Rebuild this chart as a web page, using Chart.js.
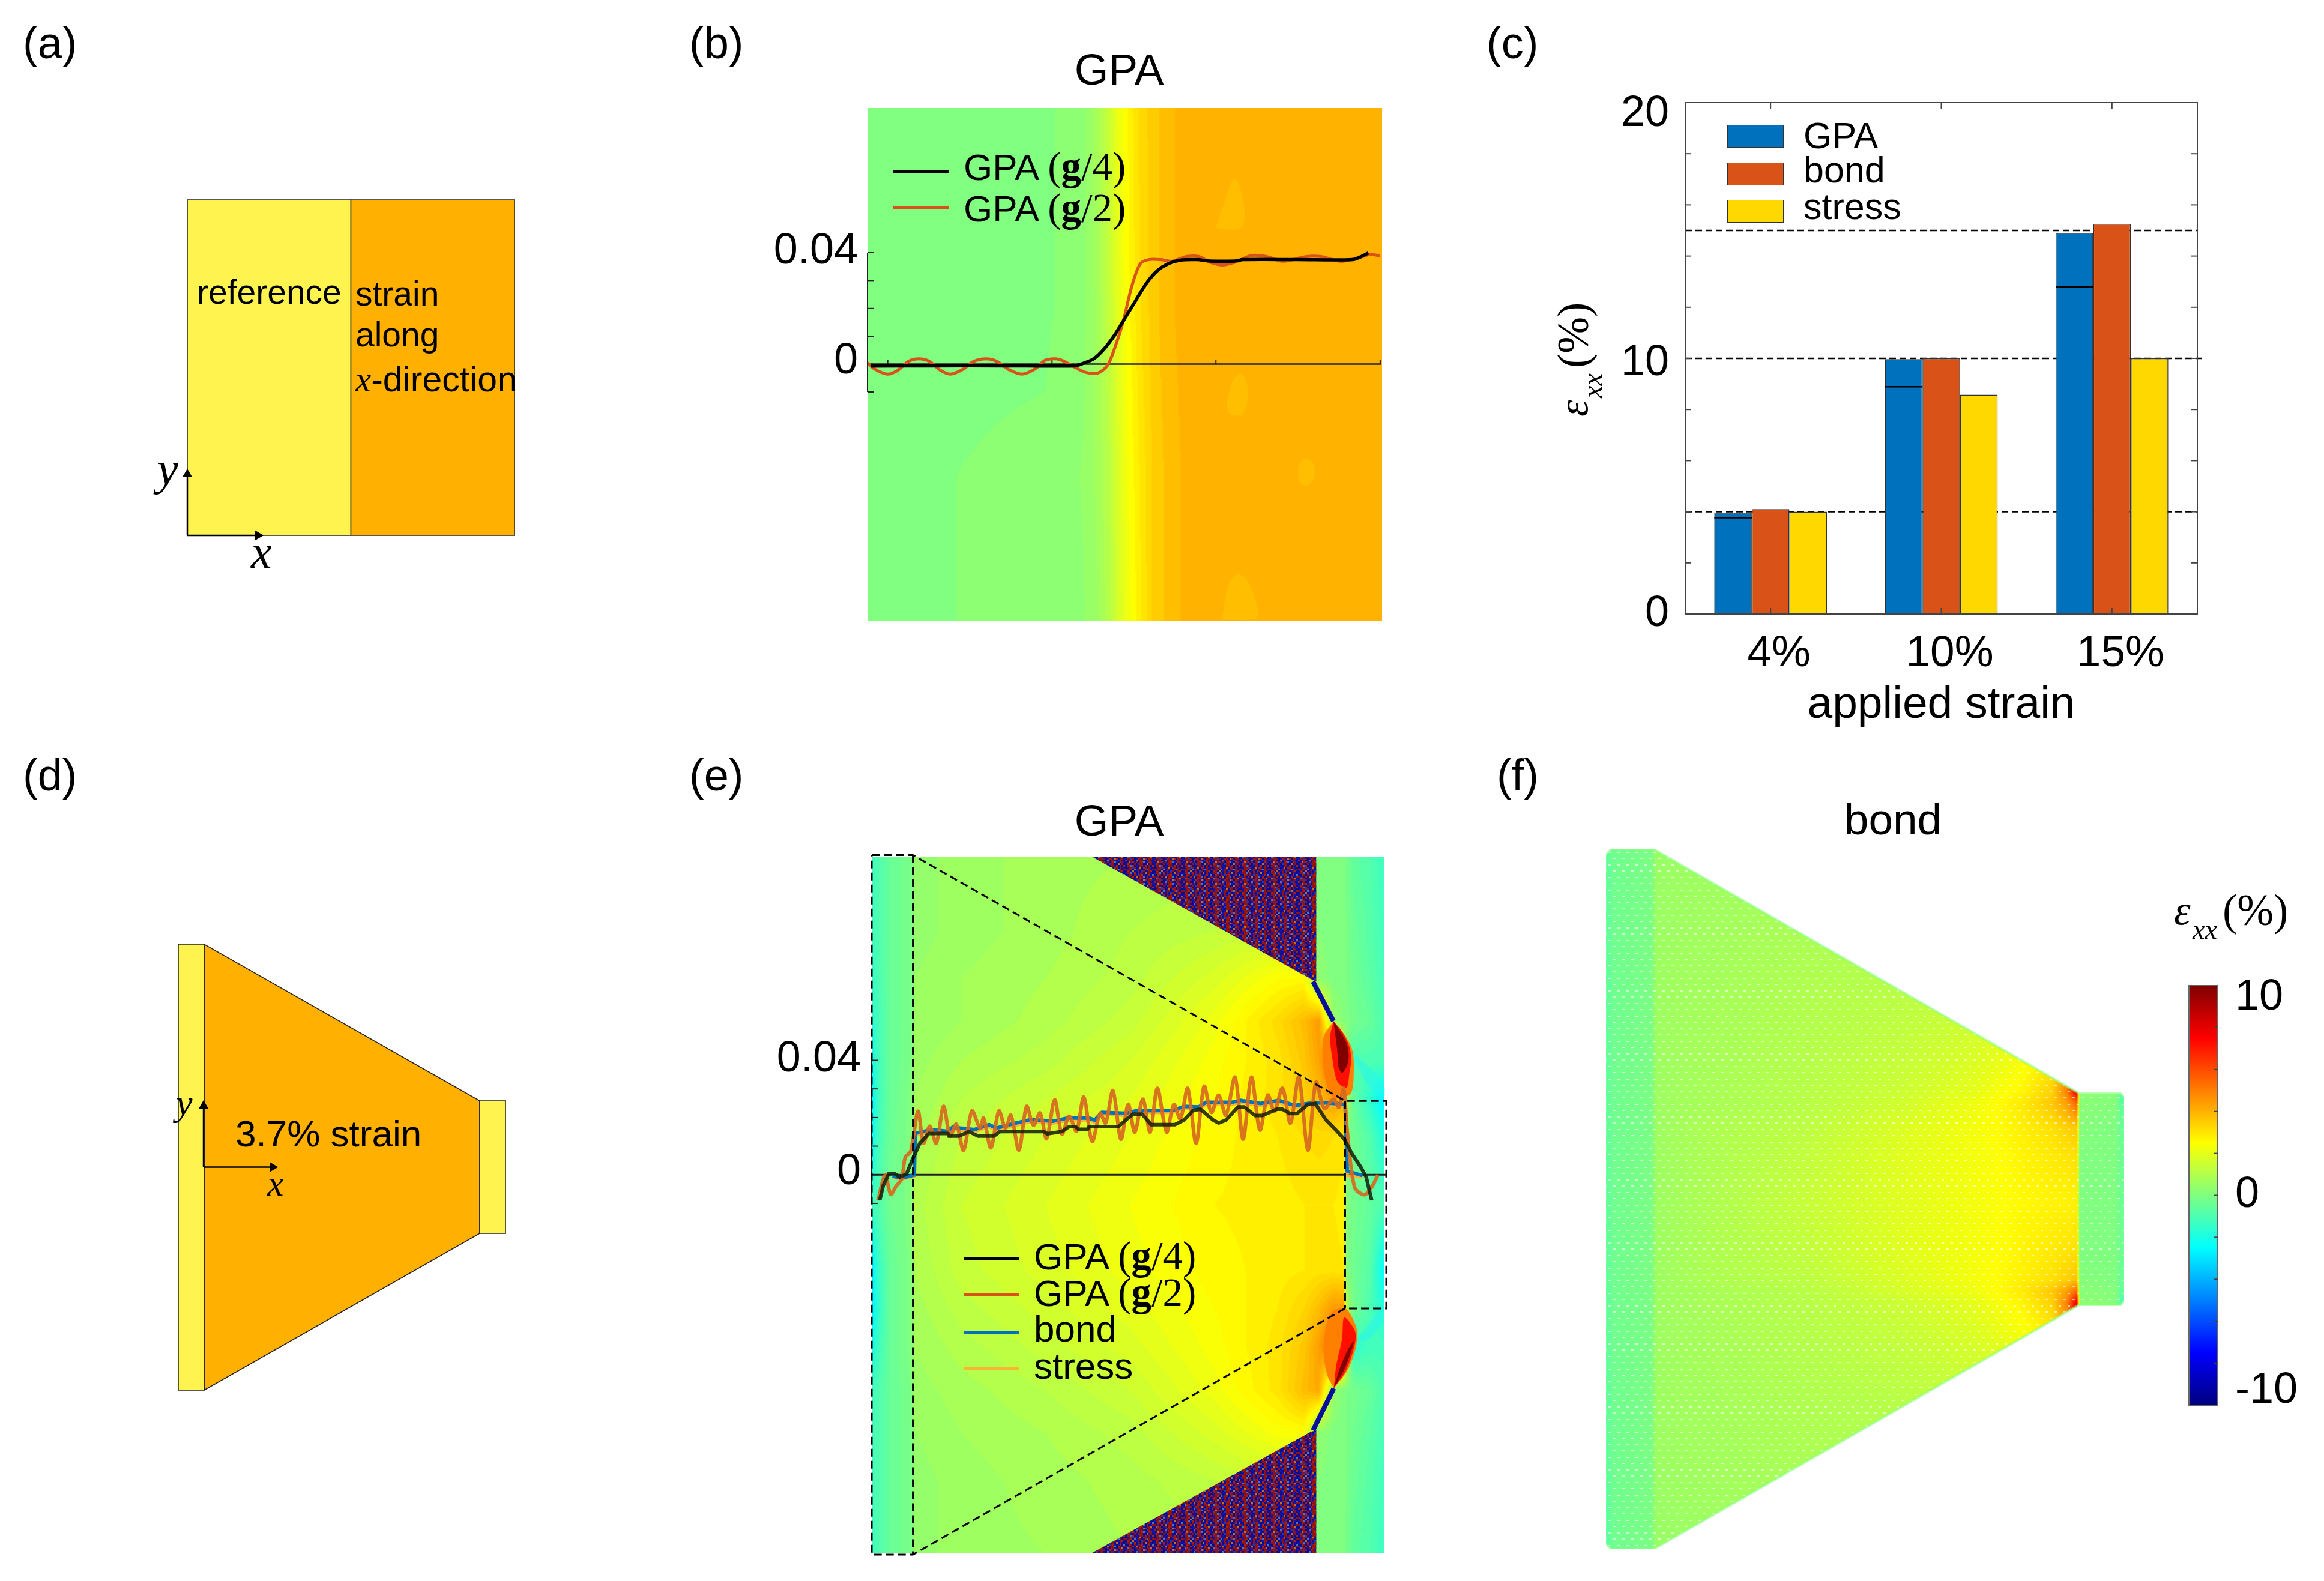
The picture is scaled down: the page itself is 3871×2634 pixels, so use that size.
<!DOCTYPE html>
<html>
<head>
<meta charset="utf-8">
<title>Strain maps</title>
<script src="https://cdn.jsdelivr.net/npm/chart.js@4/dist/chart.umd.min.js"></script>
<style>
  html, body { margin: 0; padding: 0; background: #fff; }
  #page { position: relative; width: 3871px; height: 2634px; overflow: hidden; background: #fff; }
  #page canvas { position: absolute; }
  .txt { position: absolute; white-space: pre; line-height: 1; color: #000; font-family: "Liberation Sans"; z-index: 5; }
  .serif { font-family: "Liberation Serif"; font-size: 1.08em; }
  .math { font-family: "Liberation Serif"; font-style: italic; }
</style>
</head>
<body>
<div id="page"></div>
<script>
// ---------- data ----------

// (c) bars
var categories = ["4%", "10%", "15%"];
var barSeries = ["GPA", "bond", "stress"];
var gpaValues = [3.96, 9.97, 14.9];
var bondValues = [4.1, 10.0, 15.26];
var stressValues = [4.0, 8.58, 10.0];
var gpaInnerValues = [3.77, 8.89, 12.8];
var appliedLevels = [15, 10, 4];
var cTickSpots = [0, 9.8, 19.55];
var cTickLabels = ["0", "10", "20"];
var cMinorTicks = [2, 4, 6, 8, 10, 12, 14, 16, 18];

// (b) profiles, x in plot units, y in strain
var bNames = ["GPA (g/4)", "GPA (g/2)"];
var bQuarterX = [285, 430, 600, 770, 790, 815, 840, 865, 890, 915, 940, 965, 990, 1020, 1060, 1090, 1150, 1170, 1300, 1430, 1450, 1467];
var bQuarterY = [-0.0007, -0.0006, -0.0006, -0.0006, 0.0003, 0.0019, 0.0055, 0.0105, 0.0167, 0.0229, 0.029, 0.0334, 0.0359, 0.0373, 0.0375, 0.037, 0.037, 0.0375, 0.0375, 0.0375, 0.0386, 0.0399];
var bHalfX = [278, 295, 325, 350, 375, 400, 425, 450, 475, 505, 530, 560, 585, 615, 645, 675, 700, 725, 745, 770, 795, 825, 848, 865, 885, 905, 925, 945, 975, 1000, 1035, 1065, 1090, 1120, 1150, 1190, 1225, 1265, 1320, 1355, 1400, 1440, 1470, 1495];
var bHalfY = [0.0005, -0.0018, -0.0036, -0.0022, 0.001, 0.0019, 0.001, -0.0021, -0.0036, -0.0018, 0.001, 0.0019, 0.001, -0.0021, -0.0036, -0.0018, 0.0014, 0.0019, 0.001, -0.0011, -0.0029, -0.0032, -0.0004, 0.0058, 0.0153, 0.0277, 0.0359, 0.0375, 0.0375, 0.0369, 0.0386, 0.0386, 0.0366, 0.0356, 0.0366, 0.039, 0.0386, 0.0369, 0.0386, 0.0386, 0.0369, 0.038, 0.0393, 0.0389];
var bXTicks = [326, 716, 1105, 1495];
var bYTicks = [0.04, 0.03, 0.02, 0.01, 0, -0.01];
var bTickSpots = [0.0405, 0.001];
var bTickLabels = ["0.04", "0"];

// (b) strain map, % strain, rows top to bottom
var bFieldX = [278, 700, 745, 790, 825, 850, 870, 895, 925, 955, 990, 1045, 1500];
var bFieldY = [0.092, 0.02, -0.04, -0.092];
var bField = [
  [0.1, 0.1, 0.15, 0.3, 0.8, 1.4, 2.1, 2.6, 3.2, 3.5, 3.8, 4.05, 4.05],
  [0.1, 0.1, 0.15, 0.3, 0.7, 1.3, 1.9, 2.5, 3.1, 3.5, 3.8, 4.05, 4.05],
  [0.1, 0.15, 0.25, 0.4, 0.7, 1.1, 1.7, 2.3, 2.9, 3.4, 3.7, 4.0, 4.05],
  [0.1, 0.15, 0.2, 0.35, 0.6, 1.0, 1.6, 2.2, 2.8, 3.4, 3.7, 4.0, 4.05]
];
var bBlobs = [
  { x: [1105, 1125, 1150, 1172, 1165, 1120], y: [0.049, 0.058, 0.0665, 0.056, 0.049, 0.0485] },
  { x: [1130, 1145, 1165, 1180, 1170, 1140], y: [-0.0145, -0.006, -0.0035, -0.0085, -0.0175, -0.018] },
  { x: [1300, 1310, 1330, 1340, 1325, 1305], y: [-0.0375, -0.0345, -0.0345, -0.0385, -0.0435, -0.0425] },
  { x: [1120, 1135, 1160, 1190, 1200, 1120], y: [-0.0915, -0.0795, -0.0755, -0.081, -0.0915, -0.0918] }
];

// (e) profiles, x in plot units, y in strain
var eNames = ["GPA (g/4)", "GPA (g/2)", "bond", "stress"];
var eQuarterX = [75, 85, 100, 115, 130, 148, 165, 185, 210, 262, 265, 292, 320, 345, 388, 405, 525, 535, 575, 595, 612, 620, 645, 650, 730, 750, 770, 795, 820, 885, 910, 935, 955, 990, 1005, 1025, 1058, 1075, 1105, 1125, 1165, 1180, 1200, 1220, 1250, 1270, 1300, 1330, 1350, 1370, 1395, 1410, 1425];
var eQuarterY = [-0.0089, -0.0036, 0.0004, 0.0004, -0.0008, 0.0002, 0.0054, 0.011, 0.0144, 0.0144, 0.0135, 0.0135, 0.0151, 0.0135, 0.0135, 0.0151, 0.0151, 0.0143, 0.0151, 0.0168, 0.0168, 0.0159, 0.0159, 0.0168, 0.0168, 0.0191, 0.0212, 0.0212, 0.0175, 0.0175, 0.0191, 0.0225, 0.0229, 0.0191, 0.0181, 0.0191, 0.0237, 0.0237, 0.0207, 0.0207, 0.0229, 0.0229, 0.0214, 0.0214, 0.0246, 0.0249, 0.0191, 0.0152, 0.0124, 0.0075, 0.0027, -0.0008, -0.0089];
var eHalfX = [70, 90, 105, 120, 135, 145, 160, 180, 195, 212, 230, 250, 268, 285, 305, 328, 350, 360, 380, 402, 420, 435, 457, 478, 497, 515, 533, 555, 575, 595, 615, 635, 658, 680, 695, 715, 737, 757, 775, 797, 817, 837, 862, 882, 900, 920, 943, 965, 985, 1005, 1025, 1050, 1072, 1095, 1118, 1140, 1158, 1180, 1202, 1225, 1250, 1272, 1295, 1320, 1335, 1348, 1358, 1378, 1405, 1425, 1442];
var eHalfY = [-0.0089, -0.0001, -0.0068, -0.004, -0.0015, 0.0061, 0.0082, 0.0222, 0.011, 0.017, 0.011, 0.0239, 0.0135, 0.0177, 0.0086, 0.0223, 0.0163, 0.0198, 0.0094, 0.0223, 0.0163, 0.0208, 0.0086, 0.0239, 0.0173, 0.0216, 0.0126, 0.0262, 0.0142, 0.0205, 0.0152, 0.0271, 0.0117, 0.0215, 0.018, 0.0294, 0.0124, 0.0246, 0.0149, 0.0264, 0.0149, 0.0302, 0.0149, 0.0246, 0.0194, 0.0302, 0.011, 0.0309, 0.0218, 0.0278, 0.0208, 0.0341, 0.0124, 0.0341, 0.0156, 0.0278, 0.0222, 0.0302, 0.018, 0.0341, 0.0086, 0.0323, 0.0232, 0.0264, 0.0236, 0.0302, 0.0152, -0.0043, -0.007, -0.0043, -0.0001];
var eBondX = [110, 135, 170, 172, 190, 215, 260, 275, 335, 375, 395, 450, 490, 550, 590, 650, 665, 685, 750, 780, 880, 910, 950, 970, 1040, 1065, 1120, 1170, 1215, 1260, 1300, 1352, 1358, 1400];
var eBondY = [-0.0005, -0.0012, -0.0001, 0.0145, 0.0149, 0.0158, 0.0152, 0.0166, 0.0158, 0.0175, 0.0163, 0.0181, 0.0193, 0.0187, 0.0198, 0.0198, 0.0191, 0.0218, 0.0215, 0.0224, 0.0225, 0.0239, 0.0237, 0.0253, 0.0253, 0.026, 0.0249, 0.026, 0.0242, 0.0251, 0.0251, 0.0246, 0.0013, -0.0003];
var eStressY = [-0.001, -0.0016, -0.0006, 0.0138, 0.0142, 0.015, 0.0145, 0.0158, 0.015, 0.0167, 0.0155, 0.0173, 0.0185, 0.0179, 0.019, 0.019, 0.0183, 0.021, 0.0207, 0.0216, 0.0217, 0.0231, 0.0229, 0.0245, 0.0245, 0.0252, 0.0241, 0.0252, 0.0234, 0.0243, 0.0243, 0.0238, -0.0003, -0.0009];
var eYTicks = [0.04, 0.03, 0.02, 0.01, 0, -0.01];
var eTickSpots = [0.0402, 0.0008];
var eTickLabels = ["0.04", "0"];

// (e) outline of the structure on the map
var eBoxX = [53, 166, 1352, 1465, 1465, 1352, 166, 53, 53];
var eBoxY = [0.1117, 0.1117, 0.0258, 0.0258, -0.0467, -0.0467, -0.1327, -0.1327, 0.1117];
var eLeftEdgeX = [166, 166];
var eLeftEdgeY = [0.1117, -0.1327];
var eRightEdgeX = [1352, 1352];
var eRightEdgeY = [0.0258, -0.0467];

// (e) strain map, % strain, rows top to bottom
var eFieldX = [53, 67, 102, 160, 170, 298, 530, 761, 993, 1167, 1240, 1280, 1320, 1348, 1356, 1375, 1421, 1458];
var eFieldY = [0.1112, 0.085, 0.0683, 0.0537, 0.04, 0.0267, 0.0133, -0.0105, -0.0333, -0.0467, -0.06, -0.0753, -0.09, -0.1067, -0.1322];
var eField = [
  [-1.3, -1, -0.5, -0.1, 0.4, 0.6, 0.8, 0.9, 1, 1, 1, 0.1, 0, 0, -0.2, -0.6, -0.9, -1.3],
  [-1.3, -1, -0.5, -0.1, 0.4, 0.6, 0.8, 1.1, 1.3, 1.5, 0.8, 0.1, 0, 0, -0.1, -0.4, -0.8, -1.2],
  [-1.5, -1.1, -0.5, -0.1, 0.5, 0.7, 0.9, 1.2, 1.8, 2.5, 2.6, 0.3, 0, 0, -0.1, -0.3, -0.7, -1.1],
  [-1.7, -1.2, -0.5, -0.1, 0.5, 0.7, 1, 1.4, 2.2, 3.2, 3.8, 4.5, 0.5, 0.1, 0, -0.2, -0.5, -1],
  [-2.3, -1.3, -0.5, -0.1, 0.6, 0.9, 1.2, 1.7, 2.4, 3, 3.6, 4.3, 5.5, 3, 0.3, -1, -1, -1],
  [-2.8, -1.4, -0.5, 0, 0.7, 1.1, 1.5, 1.9, 2.5, 3, 3.4, 3.8, 4.5, 4, 0.8, -0.5, -1.6, -2.8],
  [-2.6, -1.3, -0.4, 0, 0.8, 1.3, 1.7, 2.1, 2.6, 2.9, 3.1, 3.2, 3.1, 3, 0, -0.3, -0.9, -1.9],
  [-1.3, -1, -0.3, 0, 1, 1.5, 1.9, 2.3, 2.7, 2.8, 2.9, 2.9, 2.9, 2.8, 0, -0.2, -0.6, -1],
  [-3, -1.6, -0.5, 0, 0.9, 1.4, 1.8, 2.2, 2.6, 2.8, 2.9, 3, 3, 2.9, 0, -0.3, -0.8, -2.5],
  [-3, -1.7, -0.5, 0, 0.8, 1.2, 1.6, 2, 2.5, 2.9, 3.3, 3.8, 4.5, 4.5, 1, -0.2, -1, -1.8],
  [-2.2, -1.4, -0.5, 0, 0.7, 1, 1.4, 1.8, 2.4, 3, 3.6, 4.4, 5.5, 6, 2.5, -1.5, -1.2, -1.2],
  [-1.3, -1, -0.5, -0.1, 0.6, 0.8, 1.1, 1.5, 2.2, 3, 3.8, 4.2, 0.5, 0, -0.1, -0.2, -0.5, -1],
  [-1.2, -1, -0.5, -0.1, 0.5, 0.7, 0.9, 1.2, 1.8, 2.4, 2.5, 0.3, 0, 0, -0.1, -0.3, -0.7, -1.1],
  [-1.2, -1, -0.5, -0.1, 0.4, 0.6, 0.8, 1, 1.3, 1.5, 0.8, 0.1, 0, 0, -0.1, -0.4, -0.8, -1.2],
  [-1.3, -1, -0.5, -0.1, 0.4, 0.6, 0.7, 0.9, 1, 1, 1, 0.1, 0, 0, -0.2, -0.6, -0.9, -1.3]
];

// (e) hot spots at the corners, level in % strain
var eSpots = [
  { level: 10, x: [1320, 1338, 1356, 1362, 1358, 1344, 1334, 1331, 1326], y: [0.0537, 0.0502, 0.046, 0.0419, 0.0383, 0.0356, 0.0377, 0.0429, 0.0481] },
  { level: 7.2, x: [1320, 1343, 1362, 1369, 1364, 1356, 1331, 1318, 1311], y: [0.0537, 0.0502, 0.0454, 0.0408, 0.0356, 0.0304, 0.0325, 0.0398, 0.0481] },
  { level: 5, x: [1320, 1351, 1371, 1376, 1367, 1318, 1293, 1293], y: [0.0537, 0.0488, 0.044, 0.0377, 0.0283, 0.0273, 0.0367, 0.0481] },
  { level: 10, x: [1321, 1348, 1367, 1376, 1359, 1338], y: [-0.0746, -0.0685, -0.0623, -0.0581, -0.0613, -0.0675] },
  { level: 7.2, x: [1321, 1354, 1377, 1381, 1367, 1349, 1344, 1328], y: [-0.0746, -0.0685, -0.0602, -0.0554, -0.0519, -0.0498, -0.0571, -0.0665] },
  { level: 5, x: [1321, 1358, 1382, 1384, 1367, 1349, 1310, 1293, 1302], y: [-0.0746, -0.0685, -0.0602, -0.054, -0.0488, -0.0465, -0.0488, -0.0602, -0.0696] }
];
var eStreaks = [
  { x: [1371, 1456, 1456, 1409], y: [0.0429, 0.0325, 0.0263, 0.0325] },
  { x: [1381, 1453, 1453, 1409], y: [-0.0581, -0.0467, -0.0519, -0.0581] }
];
var eEdges = [
  { x: [1264, 1320], y: [0.0675, 0.0537] },
  { x: [1264, 1321], y: [-0.0893, -0.0746] }
];
var eNoiseAreas = [
  { x: [657, 1259, 1273, 1273, 657], y: [0.1112, 0.0683, 0.0675, 0.1112, 0.1112] },
  { x: [657, 1259, 1273, 1273, 657], y: [-0.1322, -0.0897, -0.0893, -0.1322, -0.1322] }
];
var noiseColors = { b: "#0b0b8e", n: "#1414a8", B: "#2238b4", r: "#8e1210", R: "#a82012", o: "#b8702a", s: "#4f72b4" };
var noiseTile = [
  "bnrrBrbnobRrbrnb",
  "rnrRbsnrrbnRsrbr",
  "bRrbobnrbBrbnrRb",
  "nrrsnRbrnrbobrnb",
  "bbRrbrnBrRnbnRbs",
  "rnrbRbobrrsbRbnr",
  "bsRrbnrbRrnbrrob",
  "nrrBrbnRrnoRbrrn",
  "RbrrbbsnrrnbBrnb",
  "bnorRnrbrRsnbRrn",
  "nRrnbrbBrrbbonrb",
  "brrsRbnbrrnRbrbR"
];

// (f) structure outline and strain map
var fShapeX = [92, 103, 190, 1065, 1150, 1157, 1157, 1150, 1065, 190, 103, 92, 92];
var fShapeY = [90, 78, 78, 590, 590, 598, 1025, 1033, 1033, 1545, 1545, 1533, 90];
var fFieldX = [92, 105, 186, 194, 300, 500, 700, 850, 950, 1010, 1040, 1060, 1066, 1072, 1140, 1157];
var fFieldY = [78, 300, 585, 610, 660, 720, 812, 920, 980, 1005, 1030, 1300, 1545];
var fField = [
  [-0.8, -0.3, -0.1, 0.5, 0.6, 0.7, 0.8, 0.9, 0.9, 0.9, 0.9, 0.9, 0.1, 0.1, 0, -0.7],
  [-0.8, -0.3, -0.1, 0.6, 0.7, 0.9, 1, 1.1, 1.2, 1.2, 1.2, 1.2, 0.1, 0.1, 0, -0.7],
  [-0.8, -0.3, -0.1, 0.6, 0.8, 1.1, 1.5, 2, 2.7, 3.4, 5, 8, 0.2, 0.3, 0.1, -1.5],
  [-0.8, -0.3, -0.1, 0.6, 0.8, 1.1, 1.6, 2.2, 2.9, 3.6, 4.4, 5.5, 0.1, 0.2, 0.1, -1],
  [-0.8, -0.3, -0.1, 0.6, 0.9, 1.2, 1.8, 2.3, 2.8, 3.1, 3.4, 3.6, 0.1, 0.1, 0, -0.7],
  [-0.8, -0.3, -0.1, 0.6, 0.9, 1.3, 1.9, 2.3, 2.7, 2.9, 3, 3.1, 0, 0, 0, -0.6],
  [-0.8, -0.3, -0.1, 0.6, 0.9, 1.4, 1.9, 2.3, 2.6, 2.7, 2.7, 2.8, 0, 0, 0, -0.6],
  [-0.8, -0.3, -0.1, 0.6, 0.9, 1.3, 1.9, 2.3, 2.7, 2.9, 3, 3.1, 0, 0, 0, -0.6],
  [-0.8, -0.3, -0.1, 0.6, 0.9, 1.2, 1.8, 2.3, 2.8, 3.1, 3.4, 3.7, 0.1, 0.1, 0, -0.7],
  [-0.8, -0.3, -0.1, 0.6, 0.8, 1.1, 1.7, 2.2, 2.9, 3.6, 4.4, 5.5, 0.1, 0.2, 0.1, -1],
  [-0.8, -0.3, -0.1, 0.6, 0.8, 1.1, 1.5, 2, 2.7, 3.4, 5, 8, 0.2, 0.3, 0.1, -1.5],
  [-0.8, -0.3, -0.1, 0.6, 0.7, 0.9, 1, 1.1, 1.2, 1.2, 1.2, 1.2, 0.1, 0.1, 0, -0.7],
  [-1, -0.3, -0.1, 0.5, 0.6, 0.7, 0.8, 0.9, 0.9, 0.9, 0.9, 0.9, 0.1, 0.1, 0, -0.7]
];

// colour bar
var barLevels = [10, 9, 8, 7, 6, 5, 4, 3, 2, 1, 0, -1, -2, -3, -4, -5, -6, -7, -8, -9, -10];
var barTicks = [8, 6, 4, 2, 0, -2, -4, -6, -8];
var barTickSpots = [9.43, 0, -9.31];
var barTickLabels = ["10", "0", "-10"];

// (a) and (d) schematics
var aEdgesX = [0, 1, 2];
var aEdgesY = [0, 1];
var dEdgesX = [0, 43, 502, 545];
var dWideHalf = 371.5;
var dNarrowHalf = 110.5;

var panelLabels = ["(a)", "(b)", "(c)", "(d)", "(e)", "(f)"];

// ---------- helpers ----------

var page = document.getElementById("page");
var SANS = '"Liberation Sans"';
var BLUE = "#0072BD", RED = "#D95319", GOLD = "#FFD800";
var YELLOW = "#FFF44F", ORANGE = "#FFB000";

Chart.defaults.font.family = SANS;
Chart.defaults.animation = false;
Chart.defaults.responsive = false;
Chart.defaults.devicePixelRatio = 1;
Chart.defaults.color = "#000";
Chart.defaults.plugins.legend.display = false;
Chart.defaults.plugins.tooltip.enabled = false;

function addCanvas(left, top, width, height) {
  var c = document.createElement("canvas");
  c.width = width;
  c.height = height;
  c.style.left = left + "px";
  c.style.top = top + "px";
  c.style.width = width + "px";
  c.style.height = height + "px";
  page.appendChild(c);
  return c;
}

// left / baseline placed text, line-height is 1 so the baseline sits at .84em
function addText(html, left, baseline, size, cls, parent) {
  var d = document.createElement("div");
  d.className = "txt" + (cls ? " " + cls : "");
  d.innerHTML = html;
  d.style.left = left + "px";
  d.style.top = (baseline - 0.84 * size) + "px";
  d.style.fontSize = size + "px";
  (parent || page).appendChild(d);
  return d;
}

function strainLabel(x, y, rotated) {
  var box = document.createElement("div");
  box.style.cssText = "position:absolute;z-index:5;left:" + x + "px;top:" + y + "px;transform-origin:0 0;" + (rotated ? "transform:rotate(-90deg);" : "");
  page.appendChild(box);
  addText("\u03B5", 0, 0, 70, "math", box);
  addText("xx", 31, 24, 46, "math", box);
  addText('<span style="font-style:normal">(%)</span>', 81, 0, 73, "math", box);
}

function keyName(name) {
  return name.replace(/\(g\/(\d)\)/, '<span class="serif">(<b>g</b>/$1)</span>');
}

function lineKey(name, color, x1, x2, y, textX, baseline) {
  var bar = document.createElement("div");
  bar.style.cssText = "position:absolute;z-index:5;left:" + x1 + "px;top:" + (y - 2) + "px;width:" + (x2 - x1) + "px;height:5px;background:" + color;
  page.appendChild(bar);
  addText(keyName(name), textX, baseline, 62);
}

function pts(xs, ys) {
  return xs.map(function(x, i) { return { x: x, y: ys[i] }; });
}

function curve(xs, ys, color, width, tension) {
  return { data: pts(xs, ys), showLine: true, borderColor: color, borderWidth: width, pointRadius: 0, tension: tension || 0, fill: false };
}

function shape(xs, ys, fill, stroke, width) {
  return { data: pts(xs, ys), showLine: true, backgroundColor: fill, borderColor: stroke || fill, borderWidth: width === undefined ? 0 : width, pointRadius: 0, fill: "shape", tension: 0, clip: false };
}

function closedShape(item, fill, tension) {
  var d = shape(item.x.concat(item.x[0]), item.y.concat(item.y[0]), fill);
  d.tension = tension || 0;
  return d;
}

function dashed(xs, ys) {
  var d = curve(xs, ys, "#000", 3, 0);
  d.borderDash = [13, 7];
  d.clip = false;
  return d;
}

function arrow(xs, ys, angle) {
  return {
    data: pts(xs, ys), showLine: true, borderColor: "#000", borderWidth: 2.5, fill: false, clip: false,
    pointStyle: "triangle", pointBackgroundColor: "#000", pointBorderColor: "#000",
    pointRadius: [0, 7], pointRotation: angle
  };
}

function segment(ctx, x1, y1, x2, y2, color, width) {
  ctx.save();
  ctx.strokeStyle = color;
  ctx.lineWidth = width;
  ctx.beginPath();
  ctx.moveTo(x1, y1);
  ctx.lineTo(x2, y2);
  ctx.stroke();
  ctx.restore();
}

function jet(v) {
  var t = (v + 10) / 20;
  var clamp = function(a) { return Math.max(0, Math.min(1, a)); };
  return [
    clamp(Math.min(4 * t - 1.5, -4 * t + 4.5)) * 255,
    clamp(Math.min(4 * t - 0.5, -4 * t + 3.5)) * 255,
    clamp(Math.min(4 * t + 0.5, -4 * t + 2.5)) * 255
  ];
}

function jetCss(v) {
  var c = jet(v);
  return "rgb(" + Math.round(c[0]) + "," + Math.round(c[1]) + "," + Math.round(c[2]) + ")";
}

function cellOf(list, value) {
  for (var i = 0; i < list.length - 2; i++) {
    if ((value - list[i + 1]) * (list[i + 1] - list[i]) < 0) return i;
  }
  return list.length - 2;
}

// paints a value grid behind the data, through the chart's own scales
function fieldPlugin(xs, ys, grid, step, outline, dots) {
  return {
    id: "field",
    beforeDatasetsDraw: function(chart) {
      var sx = chart.scales.x, sy = chart.scales.y, ctx = chart.ctx;
      var left = sx.getPixelForValue(xs[0]), right = sx.getPixelForValue(xs[xs.length - 1]);
      var top = sy.getPixelForValue(ys[0]), bottom = sy.getPixelForValue(ys[ys.length - 1]);
      var w = Math.ceil((right - left) / 2), h = Math.ceil((bottom - top) / 2);
      var off = document.createElement("canvas");
      off.width = w;
      off.height = h;
      var octx = off.getContext("2d");
      var img = octx.createImageData(w, h);
      for (var j = 0; j < h; j++) {
        var yv = sy.getValueForPixel(top + (j + 0.5) * (bottom - top) / h);
        var r = cellOf(ys, yv);
        var fy = (yv - ys[r]) / (ys[r + 1] - ys[r]);
        for (var i = 0; i < w; i++) {
          var xv = sx.getValueForPixel(left + (i + 0.5) * (right - left) / w);
          var c = cellOf(xs, xv);
          var fx = (xv - xs[c]) / (xs[c + 1] - xs[c]);
          var v = (grid[r][c] * (1 - fx) + grid[r][c + 1] * fx) * (1 - fy) + (grid[r + 1][c] * (1 - fx) + grid[r + 1][c + 1] * fx) * fy;
          if (step) v = Math.round(v / step) * step;
          var col = jet(v), k = (j * w + i) * 4;
          img.data[k] = col[0];
          img.data[k + 1] = col[1];
          img.data[k + 2] = col[2];
          img.data[k + 3] = 255;
        }
      }
      octx.putImageData(img, 0, 0);
      ctx.save();
      if (outline) {
        ctx.beginPath();
        outline.x.forEach(function(x, i) {
          var px = sx.getPixelForValue(x), py = sy.getPixelForValue(outline.y[i]);
          if (i === 0) ctx.moveTo(px, py); else ctx.lineTo(px, py);
        });
        ctx.closePath();
        ctx.clip();
      }
      ctx.imageSmoothingEnabled = true;
      ctx.drawImage(off, left, top, right - left, bottom - top);
      if (dots) {
        ctx.fillStyle = dots;
        ctx.fillRect(left, top, right - left, bottom - top);
      }
      ctx.restore();
    }
  };
}

function noisePattern() {
  var cell = 3;
  var t = document.createElement("canvas");
  t.width = noiseTile[0].length * cell;
  t.height = noiseTile.length * cell;
  var c = t.getContext("2d");
  noiseTile.forEach(function(row, j) {
    row.split("").forEach(function(ch, i) {
      c.fillStyle = noiseColors[ch];
      c.fillRect(i * cell, j * cell, cell, cell);
    });
  });
  return document.createElement("canvas").getContext("2d").createPattern(t, "repeat");
}

function dotPattern() {
  var t = document.createElement("canvas");
  t.width = 15;
  t.height = 21;
  var c = t.getContext("2d");
  c.fillStyle = "rgba(255,255,255,0.62)";
  c.fillRect(2, 3, 4, 2);
  c.fillRect(9, 14, 4, 2);
  return document.createElement("canvas").getContext("2d").createPattern(t, "repeat");
}

// y axis that only carries the labels, the marks are drawn by hand
function labelAxis(min, max, spots, labels, width, padding, position) {
  return {
    type: "linear", position: position || "left", min: min, max: max,
    grid: { display: false, drawTicks: false }, border: { display: false },
    ticks: { font: { size: 72 }, padding: padding, color: "#000", autoSkip: false, maxRotation: 0, callback: function(v, i) { return labels[i]; } },
    afterBuildTicks: function(s) { s.ticks = spots.map(function(v) { return { value: v }; }); },
    afterFit: function(s) {
      s.width = width;
      s.paddingTop = 0;
      s.paddingBottom = 0;
    }
  };
}

function hiddenX(min, max) {
  return { type: "linear", min: min, max: max, display: false };
}

// empty right hand axis, keeps the title centred where the figure has it
function spacerAxis(width) {
  return {
    type: "linear", position: "right", min: 0, max: 1,
    grid: { display: false, drawTicks: false }, border: { display: false }, ticks: { display: false },
    afterFit: function(s) {
      s.width = width;
      s.paddingTop = 0;
      s.paddingBottom = 0;
    }
  };
}

function chartTitle(text, top, bottom) {
  return { display: true, text: text, font: { size: 73, weight: "normal" }, color: "#000", padding: { top: top, bottom: bottom } };
}

// axis pieces drawn over the maps in (b) and (e)
function axisPlugin(yTicks, xTicks, zeroWidth) {
  return {
    id: "axisPieces",
    beforeDatasetsDraw: function(chart) {
      var a = chart.chartArea, sx = chart.scales.x, sy = chart.scales.y, ctx = chart.ctx;
      var y0 = sy.getPixelForValue(0);
      segment(ctx, a.left, y0, a.right, y0, "#222", zeroWidth);
      segment(ctx, a.left, sy.getPixelForValue(yTicks[0]), a.left, sy.getPixelForValue(yTicks[yTicks.length - 1]), "#222", 2);
      yTicks.forEach(function(v) {
        var py = sy.getPixelForValue(v);
        segment(ctx, a.left, py, a.left + 11, py, "#222", 2);
      });
      xTicks.forEach(function(v) {
        var px = sx.getPixelForValue(v);
        segment(ctx, px, y0, px, y0 - 7, "#222", 2);
      });
    }
  };
}

// ---------- (a) schematic ----------

new Chart(addCanvas(292, 313, 585, 599), {
  type: "scatter",
  data: { datasets: [
    arrow([0, 0], [0, 0.182], 0),
    arrow([0, 0.432], [0, 0], 90),
    shape([aEdgesX[1], aEdgesX[2], aEdgesX[2], aEdgesX[1], aEdgesX[1]], [aEdgesY[0], aEdgesY[0], aEdgesY[1], aEdgesY[1], aEdgesY[0]], ORANGE, "#222", 1.5),
    shape([aEdgesX[0], aEdgesX[1], aEdgesX[1], aEdgesX[0], aEdgesX[0]], [aEdgesY[0], aEdgesY[0], aEdgesY[1], aEdgesY[1], aEdgesY[0]], YELLOW, "#222", 1.5)
  ] },
  options: {
    layout: { padding: 20 },
    scales: { x: hiddenX(aEdgesX[0], aEdgesX[2]), y: { type: "linear", min: 0, max: 1, display: false } }
  }
});
addText("reference", 328, 506, 57);
addText("strain", 592, 509, 57);
addText("along", 592, 577, 57);
addText('<span class="math">x</span>-direction', 592, 653, 59);
addText("y", 262, 808, 78, "math");
addText("x", 418, 947, 78, "math");

// ---------- (d) schematic ----------

new Chart(addCanvas(277, 1553, 585, 783), {
  type: "scatter",
  data: { datasets: [
    arrow([42, 42], [0, 102], 0),
    arrow([42, 157], [0, 0], 90),
    shape([dEdgesX[2], dEdgesX[3], dEdgesX[3], dEdgesX[2], dEdgesX[2]], [-dNarrowHalf, -dNarrowHalf, dNarrowHalf, dNarrowHalf, -dNarrowHalf], YELLOW, "#222", 1.5),
    shape([dEdgesX[0], dEdgesX[1], dEdgesX[1], dEdgesX[0], dEdgesX[0]], [-dWideHalf, -dWideHalf, dWideHalf, dWideHalf, -dWideHalf], YELLOW, "#222", 1.5),
    shape([dEdgesX[1], dEdgesX[2], dEdgesX[2], dEdgesX[1], dEdgesX[1]], [-dWideHalf, -dNarrowHalf, dNarrowHalf, dWideHalf, -dWideHalf], ORANGE, "#222", 1.5)
  ] },
  options: {
    layout: { padding: 20 },
    scales: { x: hiddenX(dEdgesX[0], dEdgesX[3]), y: { type: "linear", min: -dWideHalf, max: dWideHalf, display: false } }
  }
});
addText("3.7% strain", 392, 1910, 62);
addText("y", 293, 1858, 62, "math");
addText("x", 445, 1992, 62, "math");

// ---------- (b) GPA map with profiles ----------

var bDatasets = [
  curve(bQuarterX, bQuarterY, "#000", 5.5, 0.3),
  curve(bHalfX, bHalfY, RED, 5, 0.3)
];
bBlobs.forEach(function(blob) {
  bDatasets.push(closedShape(blob, jetCss(3.75), 0.4));
});

new Chart(addCanvas(1250, 60, 1228, 980), {
  type: "scatter",
  data: { datasets: bDatasets },
  options: {
    layout: { autoPadding: false, padding: { bottom: 6 } },
    plugins: { title: chartTitle("GPA", 17.5, 15.5) },
    scales: { x: hiddenX(278, 1498), y: labelAxis(-0.0921, 0.0918, bTickSpots, bTickLabels, 195, 16), yPad: spacerAxis(177) }
  },
  plugins: [fieldPlugin(bFieldX, bFieldY, bField, 0.25), axisPlugin(bYTicks, bXTicks, 2.5)]
});
lineKey(bNames[0], "#000", 1488, 1580, 285, 1605, 296);
lineKey(bNames[1], RED, 1488, 1580, 345, 1605, 365);

// ---------- (c) bars ----------

function barSet(label, values, color) {
  return { label: label, data: values, backgroundColor: color, borderColor: "#333", borderWidth: 1.5, categoryPercentage: 0.66, barPercentage: 1 };
}

new Chart(addCanvas(2600, 120, 1100, 1110), {
  type: "bar",
  data: {
    labels: categories,
    datasets: [
      barSet(barSeries[0], gpaValues, BLUE),
      barSet(barSeries[1], bondValues, RED),
      barSet(barSeries[2], stressValues, GOLD)
    ]
  },
  options: {
    layout: { autoPadding: false, padding: { top: 51, right: 40 } },
    scales: {
      x: {
        grid: { display: false, drawTicks: false }, border: { display: false },
        ticks: { font: { size: 73 }, padding: 23, labelOffset: 14, color: "#000", maxRotation: 0 },
        title: { display: true, text: "applied strain", font: { size: 75 }, color: "#000", padding: { top: 0, bottom: 10 } },
        afterFit: function(s) { s.height = 207; }
      },
      y: labelAxis(0, 20, cTickSpots, cTickLabels, 207, 27)
    }
  },
  plugins: [{
    id: "levels",
    beforeDatasetsDraw: function(chart) {
      var a = chart.chartArea, ctx = chart.ctx, sy = chart.scales.y;
      ctx.save();
      ctx.setLineDash([11, 6]);
      appliedLevels.forEach(function(level) {
        var py = sy.getPixelForValue(level);
        segment(ctx, a.left, py, level === 10 ? a.right + 14 : a.right, py, "#000", 2.5);
      });
      ctx.restore();
    }
  }, {
    id: "barMarks",
    afterDatasetsDraw: function(chart) {
      var a = chart.chartArea, ctx = chart.ctx, sx = chart.scales.x, sy = chart.scales.y;
      chart.getDatasetMeta(0).data.forEach(function(bar, i) {
        var py = sy.getPixelForValue(gpaInnerValues[i]);
        segment(ctx, bar.x - bar.width / 2, py, bar.x + bar.width / 2, py, "#000", 2.5);
      });
      ctx.save();
      ctx.strokeStyle = "#444";
      ctx.lineWidth = 2;
      ctx.strokeRect(a.left, a.top, a.right - a.left, a.bottom - a.top);
      ctx.restore();
      cMinorTicks.forEach(function(v) {
        var py = sy.getPixelForValue(v);
        segment(ctx, a.left, py, a.left + 10, py, "#444", 2);
        segment(ctx, a.right, py, a.right - 10, py, "#444", 2);
      });
      categories.forEach(function(c, i) {
        var px = sx.getPixelForValue(i);
        segment(ctx, px, a.bottom, px, a.bottom - 10, "#444", 2);
        segment(ctx, px, a.top, px, a.top + 10, "#444", 2);
      });
    }
  }]
});
[[208, 247, BLUE], [271, 304, RED], [333, 365, GOLD]].forEach(function(row, i) {
  var patch = document.createElement("div");
  patch.style.cssText = "position:absolute;z-index:5;box-sizing:border-box;left:2877px;top:" + row[0] + "px;width:94px;height:38px;border:1.5px solid #333;background:" + row[2];
  page.appendChild(patch);
  addText(barSeries[i], 3004, row[1], 61);
});
strainLabel(2645, 694, true);

// ---------- (e) GPA map with profiles ----------

var noise = noisePattern();
var eDatasets = [
  dashed(eBoxX, eBoxY),
  dashed(eLeftEdgeX, eLeftEdgeY),
  dashed(eRightEdgeX, eRightEdgeY),
  curve(eQuarterX, eQuarterY, "rgba(20,30,10,0.86)", 6, 0),
  curve(eHalfX, eHalfY, "rgba(214,105,30,0.92)", 6, 0.3),
  curve(eBondX, eBondY, BLUE, 6, 0),
  curve(eBondX, eStressY, "#F7B733", 5, 0)
];
eEdges.forEach(function(edge) {
  eDatasets.push(curve(edge.x, edge.y, "#06109c", 8, 0));
});
eSpots.forEach(function(spot) {
  eDatasets.push(closedShape(spot, jetCss(spot.level), 0.3));
});
eStreaks.forEach(function(streak) {
  eDatasets.push(closedShape(streak, "rgba(40,245,235,0.55)", 0.3));
});
eNoiseAreas.forEach(function(area) {
  eDatasets.push(shape(area.x, area.y, noise));
});

new Chart(addCanvas(1250, 1300, 1228, 1300), {
  type: "scatter",
  data: { datasets: eDatasets },
  options: {
    layout: { autoPadding: false, padding: { bottom: 10 } },
    plugins: { title: chartTitle("GPA", 28.5, 8.5) },
    scales: { x: hiddenX(53, 1465), y: labelAxis(-0.1327, 0.1117, eTickSpots, eTickLabels, 202, 18), yPad: spacerAxis(169) }
  },
  plugins: [fieldPlugin(eFieldX, eFieldY, eField, 0.2), axisPlugin(eYTicks, [], 3)]
});
lineKey(eNames[0], "#000", 1606, 1697, 2096, 1722, 2111);
lineKey(eNames[1], RED, 1606, 1697, 2157, 1722, 2172);
lineKey(eNames[2], BLUE, 1606, 1697, 2219, 1722, 2235);
lineKey(eNames[3], "#F7B733", 1606, 1697, 2280, 1722, 2297);

// ---------- (f) bond map ----------

new Chart(addCanvas(2640, 1300, 991, 1291), {
  type: "scatter",
  data: { datasets: [curve(fShapeX, fShapeY, "rgba(140,255,130,0.6)", 4, 0)] },
  options: {
    layout: { autoPadding: false, padding: { left: 35, bottom: 10 } },
    plugins: { title: chartTitle("bond", 26.5, 0.5) },
    scales: { x: hiddenX(92, 1157), y: { type: "linear", min: 78, max: 1545, reverse: true, display: false }, yPad: spacerAxis(93) }
  },
  plugins: [fieldPlugin(fFieldX, fFieldY, fField, 0, { x: fShapeX, y: fShapeY }, dotPattern())]
});

// ---------- colour bar ----------

new Chart(addCanvas(3600, 1620, 271, 760), {
  type: "scatter",
  data: { datasets: [{ data: [] }] },
  options: {
    layout: { autoPadding: false, padding: { left: 46, top: 22, bottom: 39 } },
    scales: { x: hiddenX(0, 1), y: labelAxis(-10, 10, barTickSpots, barTickLabels, 177, 29, "right") }
  },
  plugins: [fieldPlugin([0, 1], barLevels, barLevels.map(function(v) { return [v, v]; }), 0), {
    id: "barMarks",
    afterDatasetsDraw: function(chart) {
      var a = chart.chartArea, ctx = chart.ctx, sy = chart.scales.y;
      ctx.save();
      ctx.strokeStyle = "#666";
      ctx.lineWidth = 2;
      ctx.strokeRect(a.left, a.top, a.right - a.left, a.bottom - a.top);
      ctx.restore();
      barTicks.forEach(function(v) {
        var py = sy.getPixelForValue(v);
        segment(ctx, a.right, py, a.right - 7, py, "#444", 2);
      });
    }
  }]
});
strainLabel(3621, 1541, false);

// ---------- panel letters ----------

var labelSpots = [[38, 97], [1148, 97], [2476, 97], [38, 1317], [1148, 1317], [2493, 1317]];
panelLabels.forEach(function(label, i) {
  addText(label, labelSpots[i][0], labelSpots[i][1], 74);
});
</script>
</body>
</html>
